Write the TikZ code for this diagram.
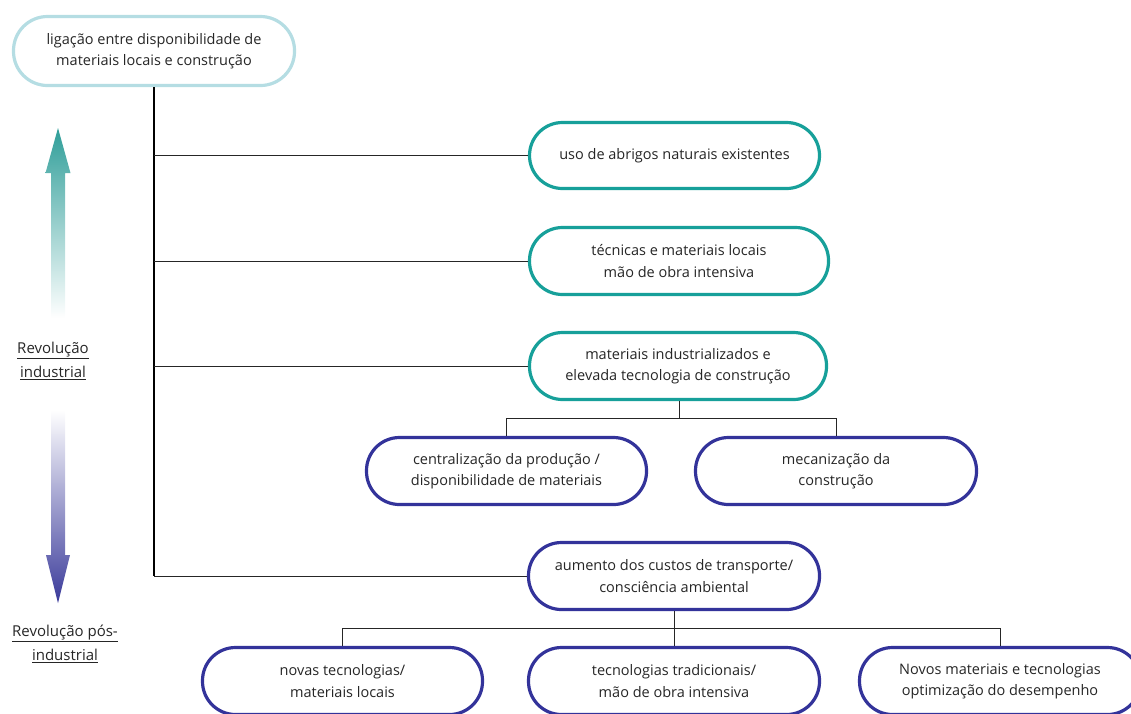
\documentclass[tikz,border=0pt]{standalone}
\usepackage{fontspec}
\setmainfont{Open Sans}
\definecolor{teal1}{HTML}{17A09A}
\definecolor{navy1}{HTML}{33339A}
\definecolor{lblue}{HTML}{B5DDE3}
\definecolor{tealarrow}{HTML}{2F9E99}
\definecolor{navyarrow}{HTML}{3A3A9A}
\begin{document}
\begin{tikzpicture}[x=1pt,y=-1pt,
  pill/.style={draw, line width=3.2pt, rounded corners=33pt, minimum height=67pt, align=center, inner sep=0pt, font=\fontsize{14.5}{21.5}\selectfont, text=black!85, fill=white},
  tealbox/.style={pill, draw=teal1},
  navybox/.style={pill, draw=navy1},
  conn/.style={line width=1pt, black!85},
  lbl/.style={align=center, font=\fontsize{15}{24.5}\selectfont, inner sep=0pt, text=black!85}]
\useasboundingbox (0,0) rectangle (1131,713);
\clip (0,0) rectangle (1131,713);
% arrows
\shade[top color=tealarrow, bottom color=white]
  (58,128) -- (70.5,173) -- (65,173) -- (65,318) -- (51,318) -- (51,173) -- (45.5,173) -- cycle;
\shade[top color=white, bottom color=navyarrow]
  (51,410) -- (65,410) -- (65,555) -- (70,555) -- (58,603) -- (46,555) -- (51,555) -- cycle;
\node[lbl] (ri) at (53,361) {\underline{Revolução}\\\underline{industrial}};
\node[lbl] (rpi) at (65,644) {\underline{Revolução pós-}\\\underline{industrial}};
% boxes
\node[pill, draw=lblue, minimum width=281pt, minimum height=69pt, rounded corners=34pt] (top) at (154,51) {ligação entre disponibilidade de\\materiais locais e construção};
\node[tealbox, minimum width=290pt, minimum height=66pt] (b1) at (674.5,155.5) {uso de abrigos naturais existentes};
\node[tealbox, minimum width=299pt] (b2) at (679,261) {técnicas e materiais locais\\mão de obra intensiva};
\node[tealbox, minimum width=297pt] (b3) at (678,366) {materiais industrializados e\\elevada tecnologia de construção};
\node[navybox, minimum width=280pt] (b4) at (506.5,471) {centralização da produção /\\disponibilidade de materiais};
\node[navybox, minimum width=281pt] (b5) at (836,471) {mecanização da\\construção};
\node[navybox, minimum width=291pt] (b6) at (674,576) {aumento dos custos de transporte/\\consciência ambiental};
\node[navybox, minimum width=280pt] (b7) at (342.5,681) {novas tecnologias/\\materiais locais};
\node[navybox, minimum width=291pt] (b8) at (674,681) {tecnologias tradicionais/\\mão de obra intensiva};
\node[navybox, minimum width=281pt] (b9) at (1000,681) {Novos materiais e tecnologias\\optimização do desempenho};
% connectors
\draw[line width=1.6pt] (top.south) -- (top.south |- b6.west);
\draw[conn] (top.south |- b6.west) -- (b6.west);
\draw[conn] (top.south |- b1.west) -- (b1.west);
\draw[conn] (top.south |- b2.west) -- (b2.west);
\draw[conn] (top.south |- b3.west) -- (b3.west);
\coordinate (j3) at (679,418);
\draw[conn] (b3.south -| j3) -- (j3);
\draw[conn] (b4.north) -- (b4.north |- j3) -- (b5.north |- j3) -- (b5.north);
\coordinate (j6) at (674,628);
\draw[conn] (b6.south) -- (j6);
\draw[conn] (b7.north) -- (b7.north |- j6) -- (b9.north |- j6) -- (b9.north);
\draw[conn] (j6) -- (b8.north);
\end{tikzpicture}
\end{document}
